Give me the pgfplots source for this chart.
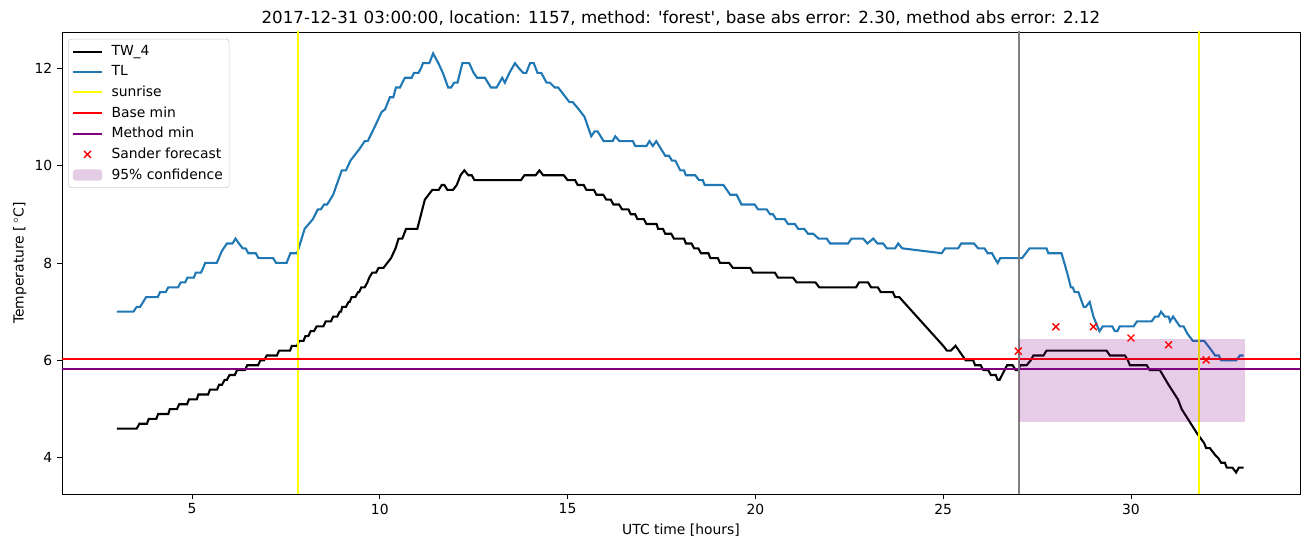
\documentclass[border=0pt]{standalone}
\usepackage{fontspec}
\setmainfont{DejaVu Sans}
\usepackage{pgfplots}
\pgfplotsset{compat=1.18}
\definecolor{mplblue}{HTML}{1F77B4}
\definecolor{mplpurple}{HTML}{800080}
\definecolor{mplgray}{HTML}{808080}
\definecolor{mplyellow}{HTML}{FFFF00}
\begin{document}
\fontsize{10pt}{12pt}\selectfont
\begin{tikzpicture}
\begin{axis}[
  scale only axis,
  width=891.4pt, height=332.6pt,
  xmin=1.54, xmax=34.5, ymin=3.26, ymax=12.74,
  xtick={5,10,15,20,25,30}, ytick={4,6,8,10,12},
  tick pos=left, tick align=outside,
  major tick length=3.5pt,
  tick style={black, line width=0.6pt},
  axis line style={line width=0.6pt},
  /pgf/number format/assume math mode=true,
  ticklabel style={font=\fontsize{10pt}{12pt}\selectfont},
  title={2017-12-31 03:00:00, location: 1157, method: \textquotesingle forest\textquotesingle, base abs error: 2.30, method abs error: 2.12},
  title style={font=\fontsize{12pt}{14pt}\selectfont, yshift=-5pt},
  xlabel={UTC time [hours]},
  ylabel={Temperature [$\,^\circ$C]},
  xlabel style={font=\fontsize{10pt}{12pt}\selectfont, yshift=-0.5pt},
  ylabel style={font=\fontsize{10pt}{12pt}\selectfont, yshift=-1pt},
  legend style={font=\fontsize{10pt}{12pt}\selectfont, draw=black!20, rounded corners=2pt, at={(0.005,0.985)}, anchor=north west, row sep=1.8pt, inner sep=2.5pt,
    /tikz/every odd column/.append style={column sep=4pt}},
  legend cell align=left,
  legend image code/.code={\draw[mark repeat=2,mark phase=2,#1] plot coordinates {(0pt,0pt)(10.5pt,0pt)(21pt,0pt)};},
]
\addplot[black, line width=1.5pt] coordinates {
(3.0,4.6)(3.53,4.6)(3.6,4.7)(3.8,4.7)(3.85,4.8)(4.05,4.8)(4.1,4.9)(4.37,4.9)(4.41,5.0)(4.6,5.0)(4.66,5.1)(4.87,5.1)(4.92,5.2)(5.13,5.2)(5.17,5.3)(5.43,5.3)(5.48,5.4)(5.67,5.4)(5.72,5.5)(5.8,5.5)(5.87,5.6)(5.93,5.6)(6.0,5.7)(6.14,5.7)(6.2,5.8)(6.41,5.8)(6.47,5.9)(6.76,5.9)(6.82,6.0)(6.92,6.0)(6.99,6.1)(7.26,6.1)(7.32,6.2)(7.61,6.2)(7.66,6.3)(7.8,6.3)(7.85,6.4)(7.97,6.4)(8.02,6.5)(8.1,6.5)(8.16,6.6)(8.25,6.6)(8.32,6.7)(8.5,6.7)(8.56,6.8)(8.7,6.8)(8.76,6.9)(8.87,6.9)(8.93,7.0)(8.97,7.0)(9.0,7.1)(9.1,7.1)(9.17,7.2)(9.2,7.2)(9.25,7.3)(9.35,7.3)(9.42,7.4)(9.45,7.4)(9.51,7.5)(9.6,7.5)(9.67,7.6)(9.72,7.7)(9.8,7.8)(9.9,7.8)(9.97,7.9)(10.1,7.9)(10.2,8.0)(10.3,8.1)(10.42,8.3)(10.5,8.5)(10.6,8.5)(10.7,8.7)(11.0,8.7)(11.1,9.0)(11.2,9.3)(11.3,9.4)(11.4,9.5)(11.57,9.5)(11.65,9.6)(11.72,9.6)(11.8,9.5)(11.95,9.5)(12.05,9.6)(12.15,9.8)(12.25,9.9)(12.36,9.8)(12.45,9.8)(12.52,9.7)(13.76,9.7)(13.85,9.8)(14.15,9.8)(14.25,9.9)(14.35,9.8)(14.9,9.8)(15.0,9.7)(15.2,9.7)(15.27,9.6)(15.43,9.6)(15.5,9.5)(15.7,9.5)(15.77,9.4)(15.95,9.4)(16.03,9.3)(16.15,9.3)(16.22,9.2)(16.37,9.2)(16.45,9.1)(16.62,9.1)(16.68,9.0)(16.8,9.0)(16.86,8.9)(17.03,8.9)(17.1,8.8)(17.37,8.8)(17.41,8.7)(17.54,8.7)(17.6,8.6)(17.76,8.6)(17.83,8.5)(18.1,8.5)(18.15,8.4)(18.3,8.4)(18.37,8.3)(18.48,8.3)(18.55,8.2)(18.75,8.2)(18.8,8.1)(19.0,8.1)(19.06,8.0)(19.3,8.0)(19.4,7.9)(19.86,7.9)(19.94,7.8)(20.52,7.8)(20.6,7.7)(21.0,7.7)(21.1,7.6)(21.6,7.6)(21.7,7.5)(22.68,7.5)(22.76,7.6)(23.0,7.6)(23.08,7.5)(23.26,7.5)(23.34,7.4)(23.66,7.4)(23.72,7.3)(23.83,7.3)(25.0,6.3)(25.1,6.2)(25.2,6.2)(25.33,6.3)(25.6,6.0)(25.8,6.0)(25.85,5.9)(26.0,5.9)(26.07,5.8)(26.2,5.8)(26.27,5.7)(26.4,5.7)(26.45,5.6)(26.5,5.6)(26.7,5.9)(26.85,5.9)(26.93,5.8)(27.0,5.8)(27.05,5.9)(27.22,5.9)(27.33,6.0)(27.4,6.1)(27.67,6.1)(27.75,6.2)(29.35,6.2)(29.44,6.1)(29.84,6.1)(29.92,6.0)(29.97,5.9)(30.42,5.9)(30.5,5.8)(30.77,5.8)(31.0,5.5)(31.25,5.2)(31.35,5.0)(31.76,4.5)(31.95,4.3)(32.0,4.2)(32.1,4.2)(32.25,4.05)(32.32,4.0)(32.4,3.9)(32.5,3.9)(32.55,3.8)(32.7,3.8)(32.8,3.7)(32.87,3.8)(33.0,3.8)
};
\addlegendentry{TW\_4}
\addplot[mplblue, line width=1.5pt] coordinates {
(3.0,7.0)(3.44,7.0)(3.53,7.1)(3.62,7.1)(3.7,7.2)(3.78,7.3)(4.09,7.3)(4.15,7.4)(4.3,7.4)(4.37,7.5)(4.63,7.5)(4.7,7.6)(4.82,7.6)(4.88,7.7)(5.05,7.7)(5.1,7.8)(5.24,7.8)(5.3,7.9)(5.35,8.0)(5.66,8.0)(5.8,8.25)(5.93,8.4)(6.08,8.4)(6.16,8.5)(6.25,8.4)(6.35,8.3)(6.43,8.3)(6.5,8.2)(6.7,8.2)(6.77,8.1)(7.16,8.1)(7.24,8.0)(7.52,8.0)(7.62,8.2)(7.8,8.2)(7.88,8.4)(8.0,8.7)(8.22,8.9)(8.35,9.1)(8.43,9.1)(8.52,9.2)(8.6,9.2)(8.76,9.4)(8.85,9.6)(8.99,9.9)(9.1,9.9)(9.22,10.1)(9.47,10.35)(9.6,10.5)(9.68,10.5)(9.87,10.8)(10.05,11.1)(10.14,11.15)(10.27,11.4)(10.36,11.4)(10.43,11.6)(10.54,11.6)(10.6,11.7)(10.67,11.8)(10.85,11.8)(10.91,11.9)(11.03,11.9)(11.1,12.0)(11.15,12.1)(11.32,12.1)(11.42,12.3)(11.56,12.1)(11.68,11.9)(11.82,11.6)(11.9,11.6)(11.98,11.7)(12.07,11.7)(12.2,12.1)(12.38,12.1)(12.5,11.9)(12.59,11.8)(12.8,11.8)(12.96,11.6)(13.11,11.6)(13.26,11.8)(13.33,11.7)(13.45,11.9)(13.6,12.1)(13.7,12.0)(13.82,11.9)(13.9,11.9)(14.0,12.1)(14.1,12.1)(14.2,11.9)(14.3,11.9)(14.44,11.7)(14.53,11.7)(14.66,11.6)(14.75,11.6)(14.85,11.5)(14.95,11.4)(15.05,11.3)(15.14,11.3)(15.3,11.15)(15.45,11.0)(15.63,10.6)(15.72,10.7)(15.8,10.7)(15.96,10.5)(16.2,10.5)(16.27,10.6)(16.38,10.5)(16.74,10.5)(16.8,10.4)(17.1,10.4)(17.18,10.5)(17.27,10.4)(17.36,10.5)(17.6,10.2)(17.7,10.2)(17.78,10.1)(17.87,10.1)(18.0,9.9)(18.1,9.9)(18.15,9.8)(18.4,9.8)(18.5,9.7)(18.6,9.7)(18.65,9.6)(19.15,9.6)(19.33,9.4)(19.5,9.4)(19.63,9.2)(19.98,9.2)(20.07,9.1)(20.3,9.1)(20.39,9.0)(20.47,9.0)(20.55,8.9)(20.78,8.9)(20.87,8.8)(21.05,8.8)(21.14,8.7)(21.3,8.7)(21.4,8.6)(21.54,8.6)(21.68,8.5)(21.9,8.5)(21.99,8.4)(22.47,8.4)(22.56,8.5)(22.87,8.5)(22.98,8.4)(23.14,8.5)(23.25,8.4)(23.4,8.4)(23.5,8.3)(23.72,8.3)(23.8,8.4)(23.91,8.3)(24.96,8.2)(25.05,8.3)(25.4,8.3)(25.48,8.4)(25.82,8.4)(25.93,8.3)(26.1,8.3)(26.18,8.2)(26.3,8.2)(26.37,8.1)(26.45,8.0)(26.52,8.1)(27.1,8.1)(27.3,8.3)(27.75,8.3)(27.8,8.2)(28.15,8.2)(28.3,7.8)(28.4,7.5)(28.45,7.5)(28.5,7.4)(28.6,7.4)(28.74,7.1)(28.8,7.1)(28.9,7.2)(29.0,6.9)(29.16,6.6)(29.25,6.7)(29.5,6.7)(29.57,6.6)(29.64,6.6)(29.7,6.7)(30.07,6.7)(30.16,6.8)(30.55,6.8)(30.64,6.9)(30.73,6.9)(30.8,7.0)(30.9,6.9)(31.0,6.9)(31.04,6.8)(31.12,6.9)(31.3,6.7)(31.4,6.7)(31.5,6.55)(31.65,6.4)(31.95,6.4)(32.15,6.2)(32.24,6.1)(32.34,6.1)(32.4,6.0)(32.8,6.0)(32.9,6.1)(33.0,6.1)
};
\addlegendentry{TL}
\addplot[mplyellow, line width=1.5pt] coordinates {(7.82,3.0)(7.82,13.0)};
\addlegendentry{sunrise}
\addplot[red, line width=1.5pt] coordinates {(1.0,6.02)(35.0,6.02)};
\addlegendentry{Base min}
\addplot[mplpurple, line width=1.5pt] coordinates {(1.0,5.83)(35.0,5.83)};
\addlegendentry{Method min}
\addplot[mplyellow, line width=1.5pt, forget plot] coordinates {(31.81,3.0)(31.81,13.0)};
\addplot[mplgray, line width=1.5pt, forget plot] coordinates {(27.02,3.0)(27.02,13.0)};
\addplot[only marks, mark=x, red, mark size=3.5pt, mark options={line width=1pt}] coordinates {
(27,6.19)(28,6.69)(29,6.69)(30,6.46)(31,6.32)(32,6.01)
};
\addlegendentry{Sander forecast}
\addplot[fill=mplpurple, fill opacity=0.2, draw=none,
  legend image code/.code={\fill[mplpurple, fill opacity=0.2] (0pt,-4pt) rectangle (21pt,4pt);}]
  coordinates {(27.02,4.74)(33.04,4.74)(33.04,6.44)(27.02,6.44)} -- cycle;
\addlegendentry{95\% confidence}
\coordinate (bl) at (rel axis cs:0,0);
\coordinate (tr) at (rel axis cs:1,1);
\end{axis}
\pgfresetboundingbox
\path[use as bounding box] ([xshift=-44.64pt,yshift=-38.16pt]bl) rectangle ([xshift=7.2pt,yshift=23.04pt]tr);
\end{tikzpicture}
\end{document}
